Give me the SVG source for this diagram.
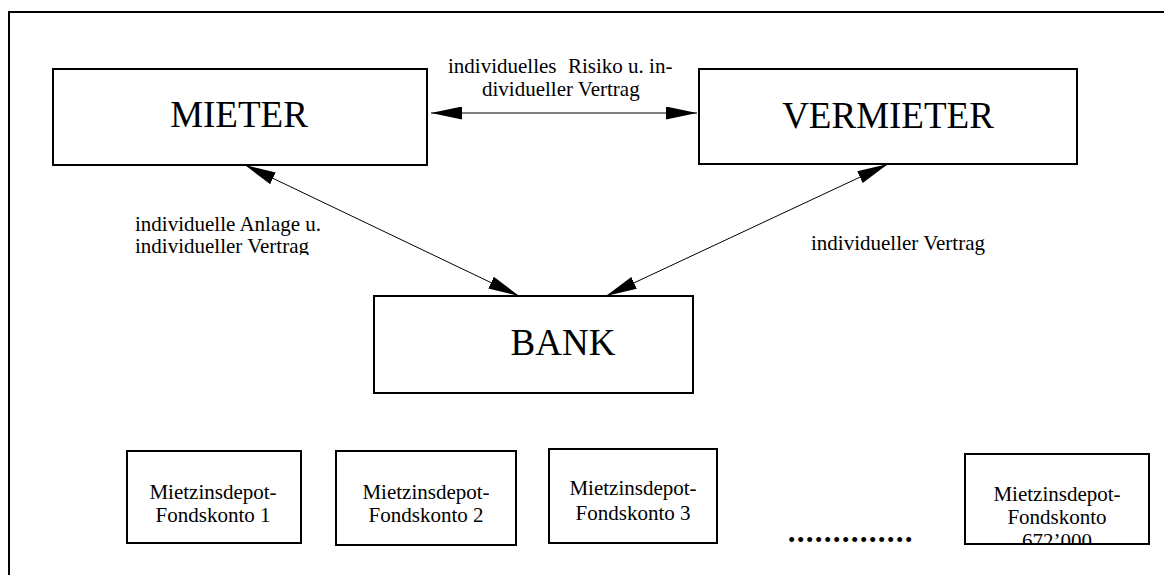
<svg xmlns="http://www.w3.org/2000/svg" width="1164" height="575" viewBox="0 0 1164 575">
<style>
.box{fill:#fff;stroke:#000;stroke-width:2}
.big{font-family:"Liberation Serif","Times New Roman",serif;font-size:37px;fill:#000;text-anchor:middle}
.lbl{font-family:"Liberation Serif","Times New Roman",serif;font-size:21px;fill:#000}
.sm{font-family:"Liberation Serif","Times New Roman",serif;font-size:21px;fill:#000;text-anchor:middle}
.conn{stroke:#000;stroke-width:1;fill:none;marker-start:url(#ah);marker-end:url(#ah)}
</style>
<defs>
<marker id="ah" viewBox="0 0 31 13" refX="31" refY="6.5" markerWidth="31" markerHeight="13" markerUnits="userSpaceOnUse" orient="auto-start-reverse">
<path d="M0,0 L31,6.5 L0,13 z" fill="#000"/>
</marker>
<clipPath id="clipL"><rect x="100" y="200" width="300" height="55"/></clipPath>
<clipPath id="clipB4"><rect x="966" y="455" width="182" height="88"/></clipPath>
</defs>
<g id="frame">
<path d="M9,575 L9,12 L1164,12" fill="none" stroke="#000" stroke-width="2"/>
</g>
<g id="connectors">
<line class="conn" x1="431" y1="113" x2="697" y2="113"/>
<line class="conn" x1="245" y1="165" x2="519" y2="296"/>
<line class="conn" x1="888" y1="164" x2="606" y2="296"/>
<text class="lbl" x="448" y="73"><tspan>individuelles</tspan><tspan x="568">Risiko u. in-</tspan></text>
<text class="lbl" x="482" y="96">dividueller Vertrag</text>
<g clip-path="url(#clipL)">
<text class="lbl" x="135" y="231">individuelle Anlage u.</text>
<text class="lbl" x="135" y="253">individueller Vertrag</text>
</g>
<text class="lbl" x="811" y="250">individueller Vertrag</text>
</g>
<g id="mieter">
<rect class="box" x="53" y="69" width="374" height="96"/>
<text class="big" x="239" y="127">MIETER</text>
</g>
<g id="vermieter">
<rect class="box" x="699" y="69" width="378" height="95"/>
<text class="big" x="888" y="128">VERMIETER</text>
</g>
<g id="bank">
<rect class="box" x="374" y="296" width="319" height="97"/>
<text class="big" x="563" y="355">BANK</text>
</g>
<g id="konto1">
<rect class="box" x="127" y="451" width="174" height="92"/>
<text class="sm" x="213" y="499">Mietzinsdepot-</text>
<text class="sm" x="213" y="522">Fondskonto 1</text>
</g>
<g id="konto2">
<rect class="box" x="336" y="451" width="180" height="94"/>
<text class="sm" x="426" y="499">Mietzinsdepot-</text>
<text class="sm" x="426" y="522">Fondskonto 2</text>
</g>
<g id="konto3">
<rect class="box" x="549" y="449" width="168" height="94"/>
<text class="sm" x="633" y="495">Mietzinsdepot-</text>
<text class="sm" x="633" y="520">Fondskonto 3</text>
</g>
<g id="dots">
<text class="lbl" x="788" y="547" letter-spacing="1.65">••••••••••••••</text>
</g>
<g id="konto672000">
<rect class="box" x="965" y="454" width="184" height="90"/>
<g clip-path="url(#clipB4)">
<text class="sm" x="1057" y="501">Mietzinsdepot-</text>
<text class="sm" x="1057" y="524">Fondskonto</text>
<text class="sm" x="1057" y="548">672’000</text>
</g>
</g>
</svg>
